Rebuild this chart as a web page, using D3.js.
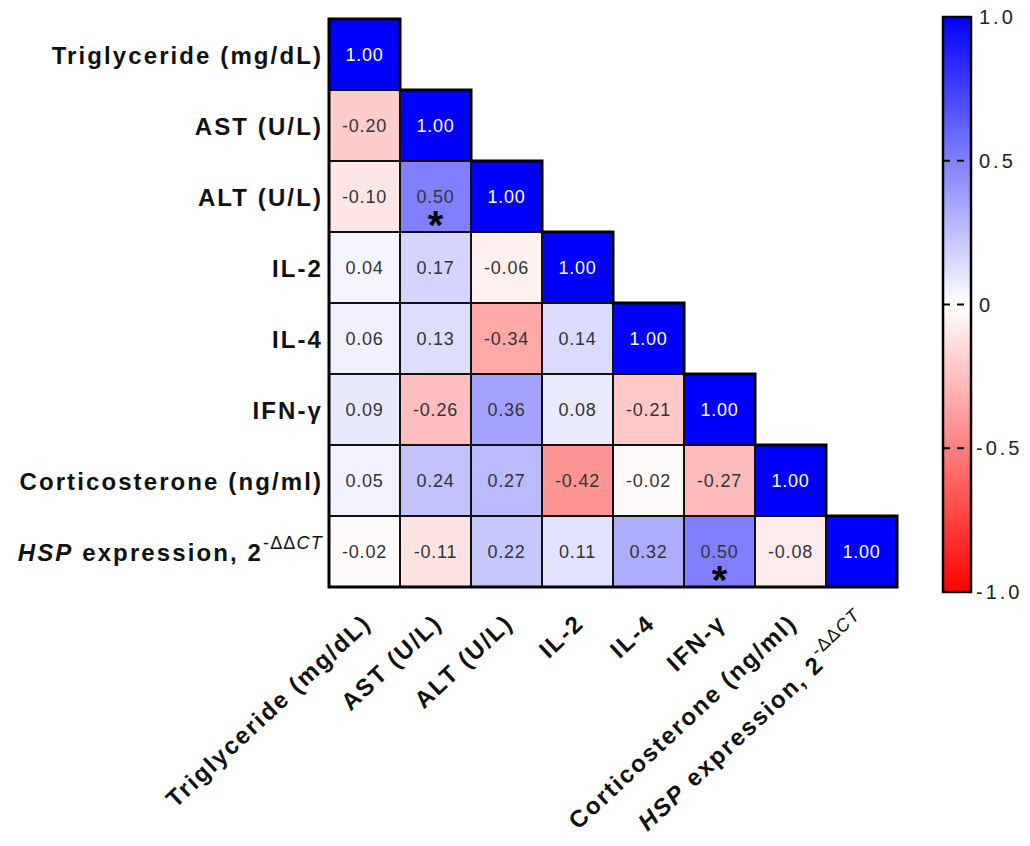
<!DOCTYPE html>
<html>
<head>
<meta charset="utf-8">
<script src="https://cdn.jsdelivr.net/npm/d3@7"></script>
<style>
  html, body { margin: 0; padding: 0; background: #fff; }
  svg { display: block; font-family: "Liberation Sans", Arial, sans-serif; }
</style>
</head>
<body>
<svg id="chart" width="1030" height="846"></svg>
<script>
// ---- data ----
const variables = ["Triglyceride (mg/dL)", "AST (U/L)", "ALT (U/L)", "IL-2", "IL-4", "IFN-γ", "Corticosterone (ng/ml)", "HSP expression, 2-ΔΔCT"];
const rowTriglyceride = [1.00];
const rowAST = [-0.20, 1.00];
const rowALT = [-0.10, 0.50, 1.00];
const rowIL2 = [0.04, 0.17, -0.06, 1.00];
const rowIL4 = [0.06, 0.13, -0.34, 0.14, 1.00];
const rowIFN = [0.09, -0.26, 0.36, 0.08, -0.21, 1.00];
const rowCort = [0.05, 0.24, 0.27, -0.42, -0.02, -0.27, 1.00];
const rowHSP = [-0.02, -0.11, 0.22, 0.11, 0.32, 0.50, -0.08, 1.00];
const significantPairs = [["ALT (U/L)", "AST (U/L)"], ["HSP expression, 2-ΔΔCT", "IFN-γ"]];
const colorbarTicks = [1.0, 0.5, 0, -0.5, -1.0];
const colorbarTickLabels = ["1.0", "0.5", "0", "-0.5", "-1.0"];

const rows = [rowTriglyceride, rowAST, rowALT, rowIL2, rowIL4, rowIFN, rowCort, rowHSP];

const svg = d3.select("#chart");
const x = d3.scaleBand().domain(variables).range([329, 897]);
const y = d3.scaleBand().domain(variables).range([19, 587]);
const color = d3.scaleLinear().domain([-1, 0, 1]).range(["#ff0000", "#ffffff", "#0000ff"]);

const cells = [];
rows.forEach((vals, i) => vals.forEach((v, j) => cells.push({ row: variables[i], col: variables[j], v })));
const isSig = d => significantPairs.some(p => p[0] === d.row && p[1] === d.col);

const g = svg.append("g");
g.selectAll("rect.cell").data(cells).join("rect")
  .attr("class", "cell")
  .attr("x", d => x(d.col)).attr("y", d => y(d.row))
  .attr("width", x.bandwidth()).attr("height", y.bandwidth())
  .attr("fill", d => color(d.v))
  .attr("stroke", "#111").attr("stroke-width", 2);

// outer staircase border
const bw = x.bandwidth();
let pts = [[x(variables[0]), y(variables[0])]];
variables.forEach(vname => {
  pts.push([x(vname) + bw, y(vname)]);
  pts.push([x(vname) + bw, y(vname) + bw]);
});
pts.push([x(variables[0]), y(variables[variables.length - 1]) + bw]);
g.append("path").attr("d", d3.line()(pts) + "Z")
  .attr("fill", "none").attr("stroke", "#000").attr("stroke-width", 3);

// cell values
g.selectAll("text.val").data(cells).join("text")
  .attr("class", "val")
  .attr("x", d => x(d.col) + bw / 2)
  .attr("y", d => y(d.row) + bw / 2)
  .attr("dy", "0.36em")
  .attr("text-anchor", "middle")
  .attr("font-size", 18).attr("letter-spacing", 0.8)
  .attr("fill", d => d.v >= 0.9 ? "#ffffff" : "#333333")
  .text(d => d.v.toFixed(2));

g.selectAll("text.sig").data(cells.filter(isSig)).join("text")
  .attr("class", "sig")
  .attr("x", d => x(d.col) + bw / 2)
  .attr("y", d => y(d.row) + bw / 2 + 20)
  .attr("dy", "0.56em")
  .attr("text-anchor", "middle")
  .attr("font-size", 40).attr("font-weight", "bold")
  .attr("fill", "#000")
  .text("*");

// label renderer
function writeLabel(sel, name, sup) {
  if (name.startsWith("HSP")) {
    sel.append("tspan").attr("font-style", "italic").text("HSP");
    sel.append("tspan").text(" expression, 2");
    sel.append("tspan").attr("dy", -sup.raise).attr("font-size", sup.size).attr("font-weight", "normal").attr("letter-spacing", 1.2).text("-ΔΔ");
    sel.append("tspan").attr("font-size", sup.size).attr("font-weight", "normal").attr("font-style", "italic").attr("letter-spacing", 1.2).text("CT");
  } else {
    sel.text(name);
  }
}

// row labels
variables.forEach(vname => {
  const t = svg.append("text")
    .attr("x", 323)
    .attr("y", y(vname) + bw / 2)
    .attr("dy", "0.38em")
    .attr("text-anchor", "end")
    .attr("font-size", 24).attr("font-weight", "bold")
    .attr("letter-spacing", 2.1)
    .attr("fill", "#111");
  writeLabel(t, vname, { size: 18, raise: 12 });
});

// column labels
variables.forEach(vname => {
  const cx = x(vname) + bw / 2 + 8;
  const cy = 625;
  const t = svg.append("text")
    .attr("transform", `translate(${cx},${cy}) rotate(-43)`)
    .attr("text-anchor", "end")
    .attr("font-size", 24).attr("font-weight", "bold")
    .attr("letter-spacing", 2)
    .attr("fill", "#111");
  writeLabel(t, vname, { size: 18, raise: 12 });
});

// colorbar
const cb = d3.scaleLinear().domain([-1, 1]).range([592, 17]);
const defs = svg.append("defs");
const grad = defs.append("linearGradient").attr("id", "cbgrad")
  .attr("x1", 0).attr("y1", 1).attr("x2", 0).attr("y2", 0);
[-1, -0.5, 0, 0.5, 1].forEach(v => grad.append("stop").attr("offset", (v + 1) / 2).attr("stop-color", color(v)));
const cbx = 943, cbw = 28;
svg.append("rect").attr("x", cbx).attr("y", cb(1)).attr("width", cbw).attr("height", cb(-1) - cb(1))
  .attr("fill", "url(#cbgrad)").attr("stroke", "#000").attr("stroke-width", 2.5);
svg.selectAll("line.cbtick").data(colorbarTicks.filter(v => Math.abs(v) < 1)).join("line")
  .attr("class", "cbtick")
  .attr("x1", cbx).attr("x2", cbx + cbw)
  .attr("y1", d => cb(d)).attr("y2", d => cb(d))
  .attr("stroke", "#000").attr("stroke-width", 2)
  .attr("stroke-dasharray", "7,7");
svg.selectAll("text.cblab").data(colorbarTicks).join("text")
  .attr("class", "cblab")
  .attr("x", d => d < 0 ? 976 : 979)
  .attr("y", d => cb(d))
  .attr("dy", "0.36em")
  .attr("font-size", 20).attr("letter-spacing", 3)
  .attr("fill", "#222")
  .text((d, i) => colorbarTickLabels[i]);
</script>
</body>
</html>
